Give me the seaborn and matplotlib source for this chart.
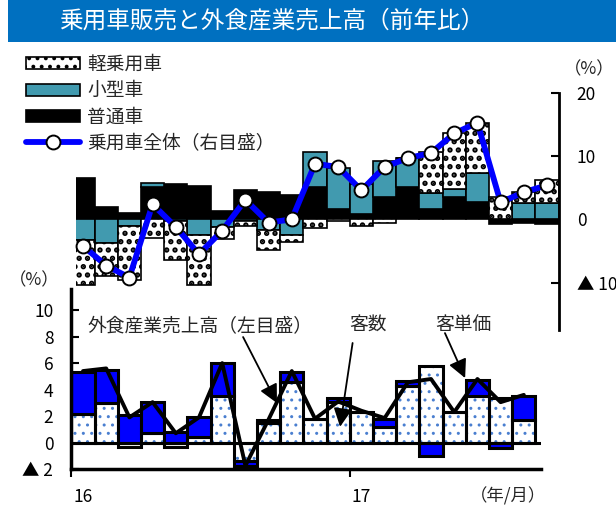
import numpy as np
import matplotlib
matplotlib.use("Agg")
import matplotlib.pyplot as plt
from matplotlib.patches import Rectangle
import seaborn as sns

# ---- 乗用車販売（前年比・寄与度, %） 2016/1–2017/9 ----
car_months = ["16/1", "16/2", "16/3", "16/4", "16/5", "16/6", "16/7", "16/8",
              "16/9", "16/10", "16/11", "16/12", "17/1", "17/2", "17/3", "17/4",
              "17/5", "17/6", "17/7", "17/8", "17/9"]
kei = [-7.1, -5.2, -8.6, -3.0, -6.1, -7.9, -1.9, -0.8, -3.2, -1.0, -1.4,
       -0.3, -1.1, -0.6, 0.0, 6.4, 8.8, 7.9, 3.6, 1.8, 3.7]
small = [-3.3, -3.8, -1.0, 0.6, -0.3, -2.5, -1.2, -0.3, -1.7, -2.5, 5.4,
         6.5, 4.8, 5.7, 4.6, 2.6, 1.3, 4.7, 0.0, 2.6, 2.6]
regular = [6.5, 1.9, 1.0, 5.1, 5.6, 5.3, 1.4, 4.6, 4.4, 3.9, 5.2,
           1.6, 0.8, 3.5, 5.1, 1.6, 3.5, 2.7, -0.7, -0.5, -0.7]
car_total = [-4.2, -7.3, -9.2, 2.4, -1.2, -5.5, -1.8, 3.1, -0.5, 0.0, 8.8,
             8.3, 4.6, 8.3, 9.7, 10.5, 13.6, 15.3, 2.7, 4.3, 5.4]

# ---- 外食産業売上高（前年比, %） 2016/1–2017/8 ----
food_months = car_months[:20]
visitors = [2.15, 2.95, -0.35, 0.7, -0.35, 0.45, 3.55, -1.4, 1.5, 4.6,
            1.8, 3.05, 2.3, 1.15, 4.3, 5.75, 2.3, 3.55, 3.4, 1.7]
unit_price = [3.15, 2.55, 2.1, 2.35, 0.8, 1.5, 2.45, -0.35, 0.2, 0.7,
              0.0, 0.3, 0.0, 0.65, 0.35, -1.0, 0.0, 1.2, -0.45, 1.85]
food_sales = [5.4, 5.6, 1.9, 3.05, 0.7, 1.9, 6.0, -1.75, 1.75, 5.4,
              1.8, 3.1, 2.4, 1.85, 4.55, 4.8, 2.3, 4.8, 3.05, 3.6]

car_ticks = [-10, 0, 10, 20]
car_ticklabels = ["▲ 10", "0", "10", "20"]
food_ticks = [-2, 0, 2, 4, 6, 8, 10]
food_ticklabels = ["▲ 2", "0", "2", "4", "6", "8", "10"]
year_labels = ["16", "17"]

TITLE = "乗用車販売と外食産業売上高（前年比）"

sns.set_style("white")
plt.rcParams["font.family"] = ["Noto Sans CJK JP", "DejaVu Sans"]
plt.rcParams["axes.unicode_minus"] = False

W, H = 616, 507
fig = plt.figure(figsize=(W / 100, H / 100), dpi=100)


def fx(px):
    return px / W


def fy(py):
    return 1 - py / H


def stacked_bars(ax, cats, layers):
    """Draw stacked bars; positives build upward, negatives downward."""
    n = len(cats)
    pos = np.zeros(n)
    neg = np.zeros(n)
    handles = []
    for vals, style in layers:
        v = np.asarray(vals, dtype=float)
        base = np.where(v >= 0, pos, neg)
        fill_kw = dict(style.get("fill", {}))
        hlw = fill_kw.pop("hatch_lw", None)
        if hlw is not None:
            plt.rcParams["hatch.linewidth"] = hlw
        n_before = len(ax.containers)
        sns.barplot(x=cats, y=v, bottom=base, ax=ax, width=1.0, saturation=1,
                    errorbar=None, **fill_kw)
        cont = ax.containers[n_before]
        if hlw is not None:
            for p in cont:
                if hasattr(p, "set_hatch_linewidth"):
                    p.set_hatch_linewidth(hlw)
        if "outline" in style:
            sns.barplot(x=cats, y=v, bottom=base, ax=ax, width=1.0, saturation=1,
                        errorbar=None, fill=False, **style["outline"])
        handles.append(cont)
        pos += np.clip(v, 0, None)
        neg += np.clip(v, None, 0)
    return handles


# title band
fig.add_artist(Rectangle((fx(8), fy(42)), fx(616) - fx(8), 42 / H,
                         transform=fig.transFigure, facecolor="#0070C0",
                         edgecolor="none", zorder=0))
fig.text(fx(272), fy(21), TITLE, color="white", fontsize=17,
         ha="center", va="center")

# ---------------- upper panel: car sales ----------------
ax_car = fig.add_axes([fx(76), fy(330), fx(558.6) - fx(76), (330 - 93) / H])
ax_car.set_zorder(2)
ax_car.patch.set_alpha(0)

car_handles = stacked_bars(ax_car, car_months, [
    (regular, {"fill": dict(color="black", edgecolor="black", linewidth=1.2,
                            label="普通車")}),
    (small, {"fill": dict(color="#419AAF", edgecolor="black", linewidth=1.2,
                          label="小型車")}),
    (kei, {"fill": dict(color="white", edgecolor="black", linewidth=1.2,
                        hatch="..", hatch_lw=2.6, label="軽乗用車")}),
])
sns.lineplot(x=np.arange(len(car_total)), y=car_total, ax=ax_car,
             color="#0000FF", linewidth=4.2, marker="o", markersize=10,
             markerfacecolor="white", markeredgecolor="black",
             markeredgewidth=1.4, zorder=5, label="乗用車全体（右目盛）",
             clip_on=False)
car_line = ax_car.lines[-1]
if ax_car.get_legend() is not None:
    ax_car.get_legend().remove()

ax_car.set_xlim(-0.3, 20.5)
ax_car.set_ylim(-17.5, 20)
ax_car.set_xticks([])
ax_car.set_xlabel("")
ax_car.set_ylabel("")
ax_car.yaxis.tick_right()
ax_car.set_yticks(car_ticks, labels=car_ticklabels)
ax_car.tick_params(axis="y", direction="in", length=6, width=1.5, pad=13,
                   labelsize=12.5, right=True, left=False, colors="black")
for side in ["left", "top", "bottom"]:
    ax_car.spines[side].set_visible(False)
ax_car.spines["right"].set_color("black")
ax_car.spines["right"].set_linewidth(2)

fig.text(fx(589), fy(69), "（%）", fontsize=12.5, ha="center", va="center")

# ---------------- lower panel: food service sales ----------------
ax_food = fig.add_axes([fx(71.4), fy(469), fx(541) - fx(71.4), (469 - 289) / H])
ax_food.set_zorder(3)
ax_food.patch.set_facecolor("white")

stacked_bars(ax_food, food_months, [
    (visitors, {"fill": dict(color="white", edgecolor="#4A7FD0", linewidth=0,
                             hatch="..", hatch_lw=1.0),
                "outline": dict(color="black", linewidth=2.2)}),
    (unit_price, {"fill": dict(color="#0000FF", edgecolor="black",
                               linewidth=2.2)}),
])
ax_food.axhline(0, color="black", linewidth=2.2, zorder=4)
sns.lineplot(x=np.arange(len(food_sales)), y=food_sales, ax=ax_food,
             color="black", linewidth=2.8, zorder=5)

ax_food.set_xlim(-0.5, 19.74)
ax_food.set_ylim(-2, 11.6)
ax_food.set_xlabel("")
ax_food.set_ylabel("")
ax_food.set_xticks([-0.5, 11.5], labels=["", ""])
ax_food.set_xticks([0, 12], labels=year_labels, minor=True)
ax_food.tick_params(axis="x", which="major", direction="out", length=6,
                    width=1.5, bottom=True, colors="black")
ax_food.tick_params(axis="x", which="minor", length=0, pad=14,
                    labelsize=12.5, colors="black")
ax_food.set_yticks(food_ticks, labels=food_ticklabels)
ax_food.tick_params(axis="y", direction="in", length=6, width=1.5, pad=13,
                    labelsize=12.5, left=True, colors="black")
for side in ["top", "right"]:
    ax_food.spines[side].set_visible(False)
for side in ["left", "bottom"]:
    ax_food.spines[side].set_color("black")
    ax_food.spines[side].set_linewidth(2.5)

arrow_kw = dict(arrowstyle="-|>,head_length=0.8,head_width=0.4",
                color="black", lw=1.3, mutation_scale=14,
                shrinkA=0, shrinkB=0)
ax_food.annotate("", xy=(8.36, 2.98), xytext=(6.9, 7.97),
                 arrowprops=arrow_kw, zorder=6)
ax_food.annotate("", xy=(11.08, 1.19), xytext=(11.62, 7.52),
                 arrowprops=arrow_kw, zorder=6)
ax_food.annotate("", xy=(16.47, 4.87), xytext=(15.6, 8.27),
                 arrowprops=arrow_kw, zorder=6)
ax_food.text(5.04, 8.73, "外食産業売上高（左目盛）", fontsize=13.5,
             ha="center", va="center", zorder=6)
ax_food.text(12.28, 8.88, "客数", fontsize=13.5, ha="center", va="center",
             zorder=6)
ax_food.text(16.38, 8.88, "客単価", fontsize=13.5, ha="center", va="center",
             zorder=6)

fig.text(fx(34), fy(280), "（%）", fontsize=12.5, ha="center", va="center")
fig.text(fx(508), fy(496), "（年/月）", fontsize=12.5, ha="center",
         va="center")

# legend for the car panel
kei_c, small_c, reg_c = car_handles[2], car_handles[1], car_handles[0]
plt.rcParams["hatch.linewidth"] = 1.6
fig.legend([kei_c, small_c, reg_c, car_line],
           ["軽乗用車", "小型車", "普通車", "乗用車全体（右目盛）"],
           loc="upper left", bbox_to_anchor=(fx(26), fy(54)), frameon=False,
           fontsize=13.5, handlelength=2.9, handleheight=0.6,
           handletextpad=0.35, labelspacing=0.28, borderpad=0,
           borderaxespad=0)

fig.savefig("out.png", dpi=100)
